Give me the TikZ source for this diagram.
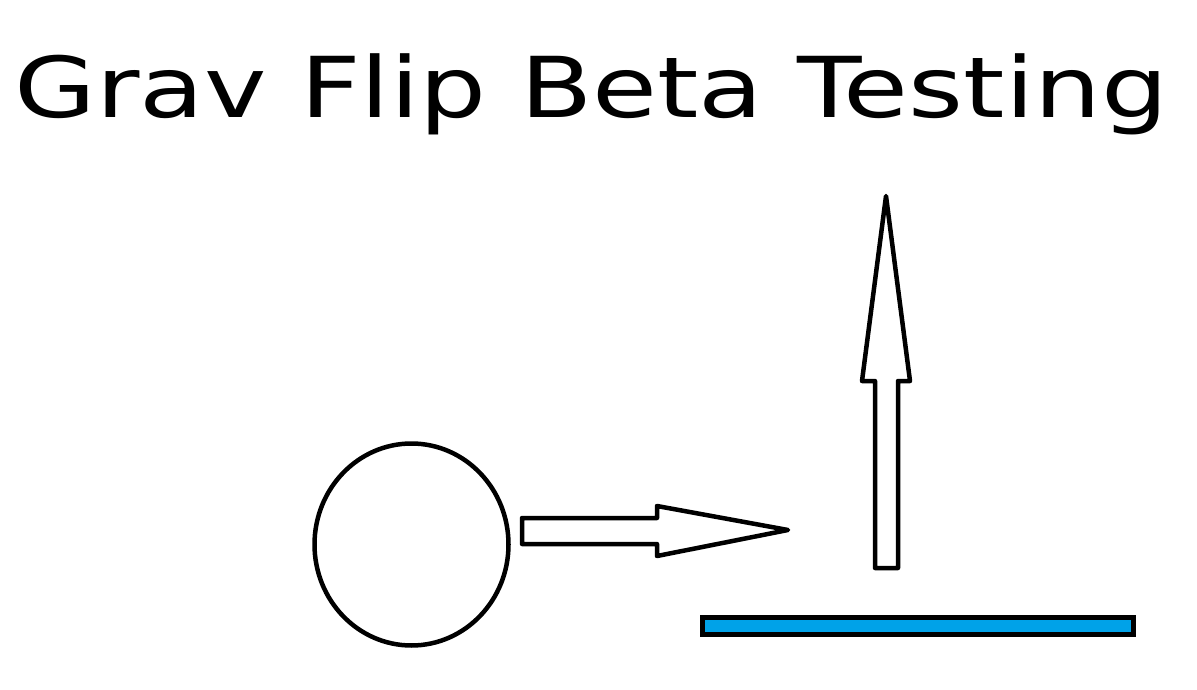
\documentclass[tikz,border=0pt]{standalone}
\usepackage{fontspec}
\setmainfont{DejaVu Sans}
\definecolor{barblue}{HTML}{00A2E8}
\begin{document}
\begin{tikzpicture}[x=1pt,y=-1pt,
  outline/.style={draw=black,line width=4.5pt,line join=round,fill=white},
  titlefont/.style={font=\fontsize{84}{100}\selectfont}]
\useasboundingbox (0,0) rectangle (1197,690);
\fill[white] (0,0) rectangle (1197,690);
\node[titlefont,anchor=base west,inner sep=0pt] (title) at (14,118) {\scalebox{1.257}[1]{Grav Flip Beta Testing}};
% ball
\draw[outline] (411.5,544.5) ellipse [x radius=97,y radius=101];
% right arrow
\draw[outline] (522,518) -- (657,518) -- (657,506) -- (788,530) -- (657,556) -- (657,544) -- (522,544) -- cycle;
% up arrow
\draw[outline] (875,568) -- (875,381) -- (862,381) -- (886,196) -- (910,381) -- (898,381) -- (898,568) -- cycle;
% platform
\draw[draw=black,line width=5pt,fill=barblue] (702.5,617.5) rectangle (1133.5,634);
\end{tikzpicture}
\end{document}
